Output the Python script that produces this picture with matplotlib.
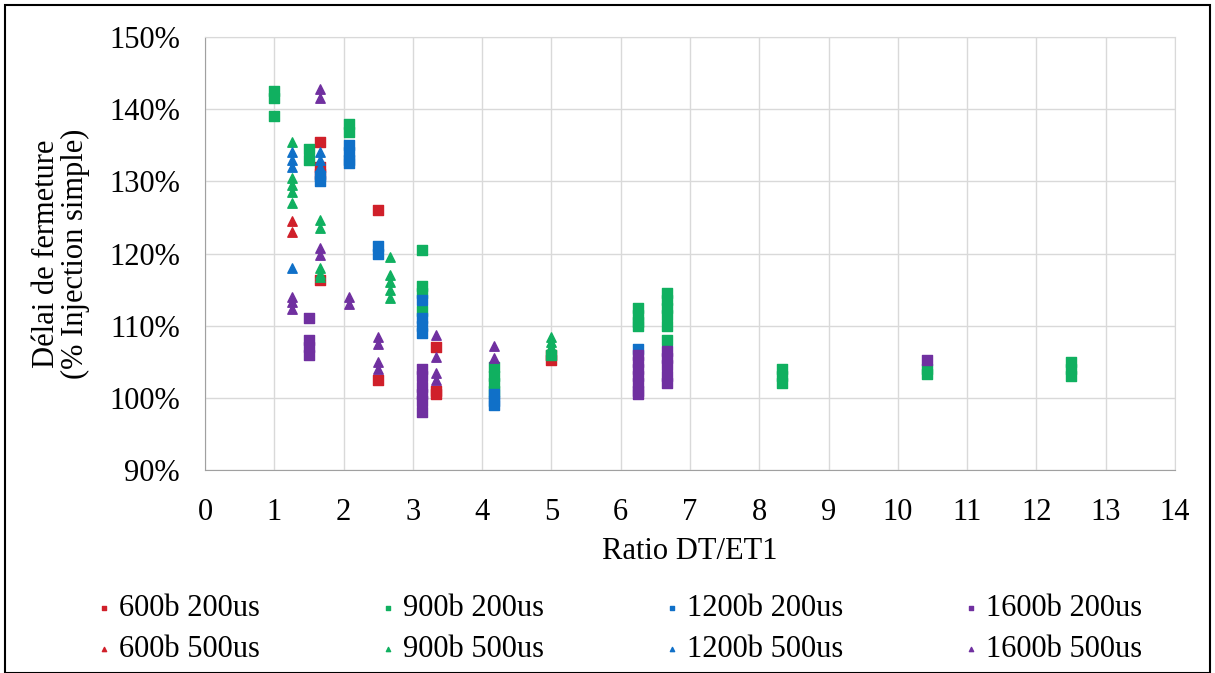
import matplotlib.pyplot as plt
from matplotlib.patches import Rectangle
from matplotlib.ticker import FuncFormatter

plt.rcParams['font.family'] = 'Liberation Serif'

# ratios DT/ET1 and closing delay (% of single injection), one list per series
x_600_200 = [1.667, 1.667, 1.667, 1.667, 2.5, 2.5, 3.333, 3.333, 3.333, 5.0, 5.0]
y_600_200 = [135.5, 132.0, 131.0, 116.3, 126.0, 102.5, 107.0, 101.0, 100.5, 106.0, 105.3]

x_900_200 = [1.0, 1.0, 1.0, 1.5, 1.5, 2.083, 2.083, 3.125, 3.125, 3.125, 3.125,
             4.167, 4.167, 4.167, 4.167, 5.0,
             6.25, 6.25, 6.25, 6.25, 6.667, 6.667, 6.667, 6.667, 6.667, 6.667,
             8.333, 8.333, 8.333, 10.417, 10.417, 12.5, 12.5, 12.5]
y_900_200 = [142.5, 141.5, 139.0, 134.5, 133.0, 138.0, 136.8, 120.5, 115.5, 114.5, 112.0,
             104.3, 103.0, 102.0, 101.0, 106.0,
             112.5, 111.5, 110.5, 110.0, 114.5, 113.5, 112.5, 111.5, 110.0, 108.0,
             104.0, 103.0, 102.0, 104.0, 103.3, 105.0, 104.0, 103.0]

x_1200_200 = [1.667, 1.667, 2.083, 2.083, 2.083, 2.083, 2.5, 2.5,
              3.125, 3.125, 3.125, 3.125, 4.167, 4.167, 4.167, 6.25]
y_1200_200 = [130.8, 130.0, 135.0, 134.0, 133.0, 132.5, 121.0, 120.0,
              113.5, 111.0, 110.0, 109.0, 100.5, 99.5, 99.0, 106.8]

x_1600_200 = [1.5, 1.5, 1.5, 1.5, 3.125, 3.125, 3.125, 3.125, 3.125, 3.125,
              6.25, 6.25, 6.25, 6.25, 6.25, 6.25, 6.25,
              6.667, 6.667, 6.667, 6.667, 6.667, 10.417]
y_1600_200 = [111.0, 108.0, 107.0, 106.0, 104.0, 103.0, 101.5, 100.5, 99.5, 98.0,
              106.0, 105.0, 104.0, 103.0, 102.0, 101.0, 100.5,
              106.5, 105.5, 104.5, 103.0, 102.0, 105.2]

x_600_500 = [1.25, 1.25, 5.0]
y_600_500 = [124.5, 123.0, 105.5]

x_900_500 = [1.25, 1.25, 1.25, 1.25, 1.25, 1.667, 1.667, 1.667, 1.667, 1.667,
             2.667, 2.667, 2.667, 2.667, 2.667, 5.0, 5.0, 5.0]
y_900_500 = [135.5, 130.5, 129.5, 128.5, 127.0, 124.6, 123.5, 118.0, 117.2, 116.8,
             119.5, 117.0, 116.0, 115.0, 113.8, 108.5, 107.8, 107.0]

x_1200_500 = [1.25, 1.25, 1.25, 1.25, 1.667, 1.667, 1.667]
y_1200_500 = [134.0, 133.0, 132.0, 118.0, 134.0, 133.0, 132.0]

x_1600_500 = [1.25, 1.25, 1.25, 1.667, 1.667, 1.667, 1.667, 2.083, 2.083,
              2.5, 2.5, 2.5, 2.5, 3.333, 3.333, 3.333, 3.333, 4.167, 4.167]
y_1600_500 = [114.0, 113.3, 112.3, 142.8, 141.5, 120.8, 119.8, 114.0, 113.0,
              108.5, 107.5, 105.0, 104.0, 108.7, 105.6, 103.5, 102.5, 107.2, 105.5]

red = '#D0202A'
green = '#10B060'
blue = '#1070C8'
purple = '#7030A0'

fs = 22

fig = plt.figure(figsize=(12.15, 6.73), dpi=100)
ax = fig.add_axes([0.1687, 0.3016, 0.7984, 0.6434])

sq = 62
tri = 46
ax.scatter(x_600_200, y_600_200, marker='s', s=sq, color=red, label='600b 200us', zorder=3)
ax.scatter(x_600_500, y_600_500, marker='^', s=tri, color=red, label='600b 500us', zorder=3)
ax.scatter(x_900_200, y_900_200, marker='s', s=sq, color=green, label='900b 200us', zorder=3)
ax.scatter(x_900_500, y_900_500, marker='^', s=tri, color=green, label='900b 500us', zorder=3)
ax.scatter(x_1200_200, y_1200_200, marker='s', s=sq, color=blue, label='1200b 200us', zorder=3)
ax.scatter(x_1200_500, y_1200_500, marker='^', s=tri, color=blue, label='1200b 500us', zorder=3)
ax.scatter(x_1600_200, y_1600_200, marker='s', s=sq, color=purple, label='1600b 200us', zorder=3)
ax.scatter(x_1600_500, y_1600_500, marker='^', s=tri, color=purple, label='1600b 500us', zorder=3)

ax.set_xlim(0, 14)
ax.set_ylim(90, 150)
ax.set_xticks(range(0, 15))
ax.set_yticks(range(90, 151, 10))
ax.yaxis.set_major_formatter(FuncFormatter(lambda v, p: '%d%%' % v))
ax.grid(True, color='#D9D9D9', linewidth=1)
ax.set_axisbelow(True)
ax.tick_params(length=0, labelsize=fs)
ax.tick_params(axis='y', pad=18)
ax.tick_params(axis='x', pad=20)
for s in ['top', 'right']:
    ax.spines[s].set_color('#D9D9D9')
for s in ['left', 'bottom']:
    ax.spines[s].set_color('#A0A0A0')

ax.set_xlabel('Ratio DT/ET1', fontsize=fs, labelpad=7)
ax.set_ylabel('Délai de fermeture\n(% Injection simple)', fontsize=fs, labelpad=14,
              linespacing=1.0)

fig.legend(loc='upper left', bbox_to_anchor=(0.0665, 0.14), ncol=4, frameon=False,
           fontsize=fs, markerscale=0.45, handlelength=0.5, handletextpad=0.25,
           columnspacing=3.93, labelspacing=0.4, borderpad=0, scatterpoints=1)

fig.patches.append(Rectangle((0.004, 0.0), 0.992, 0.993, transform=fig.transFigure,
                             fill=False, edgecolor='black', linewidth=1.5))

plt.savefig('out.png', dpi=100)
